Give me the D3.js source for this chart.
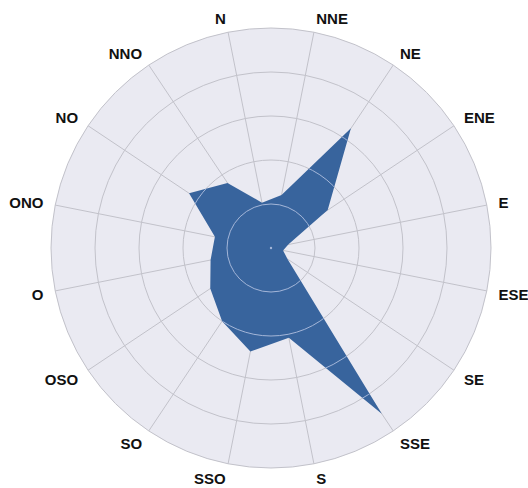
<!DOCTYPE html>
<html>
<head>
<meta charset="utf-8">
<script src="https://cdn.jsdelivr.net/npm/d3@7"></script>
<style>
  html, body { margin: 0; padding: 0; background: #ffffff; }
  svg { display: block; }
</style>
</head>
<body>
<svg id="chart" width="528" height="488"></svg>
<script>
// Directions (Spanish compass labels) and frequencies
const directions = ["N","NNE","NE","ENE","E","ESE","SE","SSE","S","SSO","SO","OSO","O","ONO","NO","NNO"];
const values = [1.05, 1.23, 3.27, 1.55, 0.4, 0.28, 0.45, 4.53, 2.08, 2.4, 2.0, 1.66, 1.4, 1.3, 2.24, 1.78];
const ringTicks = [1, 2, 3, 4, 5];
const radialMax = 5;
const rotationDeg = -11.25;

const svg = d3.select("#chart");
const cx = 271, cy = 248, R = 220;
const g = svg.append("g").attr("transform", `translate(${cx},${cy})`);

const r = d3.scaleLinear().domain([0, radialMax]).range([0, R]);
const step = 360 / directions.length;
const angDeg = i => rotationDeg + step * i;
const ang = i => angDeg(i) * Math.PI / 180;

// background disc
g.append("circle").attr("r", r(radialMax)).attr("fill", "#eaeaf2");

// spokes
g.selectAll("line.spoke").data(directions).join("line")
  .attr("class", "spoke")
  .attr("x1", 0).attr("y1", 0)
  .attr("x2", (d, i) => r(radialMax) * Math.sin(ang(i)))
  .attr("y2", (d, i) => -r(radialMax) * Math.cos(ang(i)))
  .attr("stroke", "#c2c2ca").attr("stroke-width", 1);

// rings (under)
g.selectAll("circle.ring").data(ringTicks).join("circle")
  .attr("class", "ring")
  .attr("r", d => r(d))
  .attr("fill", "none").attr("stroke", "#c2c2ca").attr("stroke-width", 1);

// area
const line = d3.lineRadial()
  .angle((d, i) => ang(i))
  .radius(d => r(d))
  .curve(d3.curveLinearClosed);
const pathD = line(values);

svg.append("defs").append("clipPath").attr("id", "areaClip")
  .append("path").attr("d", pathD);

g.append("path").attr("d", pathD).attr("fill", "#38649d").attr("stroke", "none");

// rings seen through the area
g.append("g").attr("clip-path", "url(#areaClip)")
  .selectAll("circle").data(ringTicks).join("circle")
  .attr("r", d => r(d))
  .attr("fill", "none").attr("stroke", "#a4b6d8").attr("stroke-width", 1);

// center dot
g.append("circle").attr("r", 1.2).attr("fill", "#a4b6d8");

// labels
const labR = 232;
g.selectAll("text.lab").data(directions).join("text")
  .attr("class", "lab")
  .attr("x", (d, i) => labR * Math.sin(ang(i)))
  .attr("y", (d, i) => -labR * Math.cos(ang(i)) - 3 * Math.cos(ang(i)) + 0.5)
  .attr("text-anchor", (d, i) => {
    const s = Math.sin(ang(i));
    return Math.abs(s) < 0.1 ? "middle" : (s > 0 ? "start" : "end");
  })
  .attr("dominant-baseline", "central")
  .attr("font-family", "'Liberation Sans', Arial, sans-serif")
  .attr("font-weight", "bold")
  .attr("font-size", 15)
  .attr("fill", "#111")
  .text(d => d);
</script>
</body>
</html>
